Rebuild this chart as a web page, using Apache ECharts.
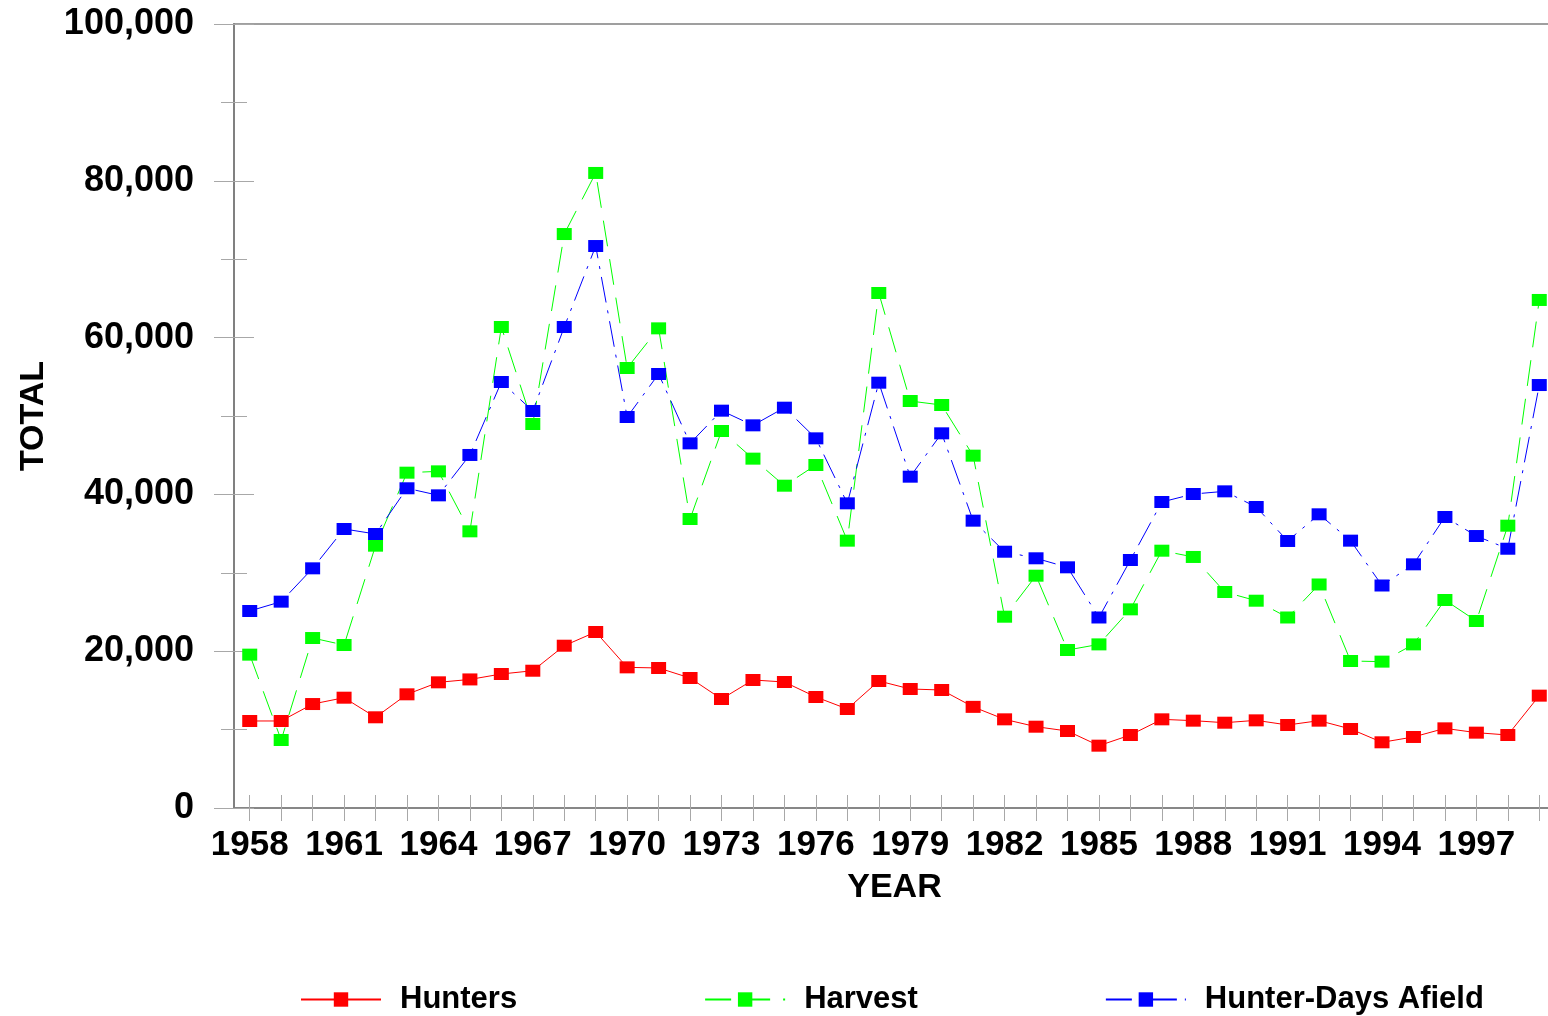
<!DOCTYPE html>
<html>
<head>
    <meta charset="utf-8">
    <title>hunters</title>
    <style>
        html, body { margin: 0; padding: 0; background: #fff; }
    </style>
</head>
<body>
    <div id="main" style="width: 1548px;height:1016px;"></div>

    <script src="https://cdn.jsdelivr.net/npm/echarts@6/dist/echarts.min.js"></script>
    <script type="text/javascript">
        // values
        var years = [];
        for (var y = 1958; y <= 1999; y++) years.push(String(y));

        var hunters = [11100, 11100, 13260, 14070, 11570, 14500, 16030, 16400, 17090, 17510,
                       20700, 22450, 17940, 17860, 16580, 13900, 16330, 16070, 14160, 12630,
                       16200, 15180, 15050, 12900, 11310, 10370, 9820, 7950, 9310, 11310,
                       11140, 10880, 11180, 10590, 11140, 10080, 8380, 9060, 10160, 9610,
                       9310, 14330];
        var harvest = [19560, 8670, 21680, 20790, 33460, 42770, 42940, 35290, 61350, 48980,
                       73210, 81000, 56120, 61180, 36860, 48090, 44560, 41110, 43750, 34100,
                       65690, 51910, 51400, 44940, 24400, 29630, 20150, 20870, 25340, 32820,
                       32020, 27550, 26440, 24300, 28510, 18750, 18670, 20870, 26530, 23850,
                       36010, 64800];
        var hunterDays = [25130, 26320, 30570, 35590, 34950, 40780, 39880, 45030, 54340, 50640,
                          61350, 71680, 49870, 55360, 46510, 50680, 48810, 51060, 47150, 38860,
                          54250, 42260, 47790, 36650, 32690, 31850, 30700, 24300, 31630, 39030,
                          40050, 40390, 38390, 34060, 37460, 34100, 28380, 31080, 37120, 34690,
                          33070, 53950];

        var font = '"Liberation Sans", Arial, Helvetica, sans-serif';
        var axisGray = '#808080';
        var tickGray = '#a8a8a8';

        function mkSeries(name, data, color, dash) {
            return {
                name: name,
                type: 'line',
                data: data,
                symbol: 'rect',
                symbolSize: [15, 12],
                showAllSymbol: true,
                itemStyle: { color: color },
                lineStyle: { color: color, width: 1, type: dash },
                emphasis: { disabled: true }
            };
        }

        var myChart = echarts.init(document.getElementById('main'));
        var option = {
            animation: false,
            backgroundColor: '#fff',
            grid: {
                left: 234,
                top: 24,
                width: 1321,
                bottom: 208,
                outerBoundsMode: 'none',
                containLabel: false,
                show: true,
                borderColor: axisGray,
                borderWidth: 1.5,
                backgroundColor: 'transparent'
            },
            legend: {
                left: 300,
                top: 984,
                padding: 0,
                itemWidth: 80,
                itemHeight: 18,
                itemGap: 187,
                textStyle: {
                    fontFamily: font,
                    fontWeight: 'bold',
                    fontSize: 31,
                    color: '#000',
                    padding: [0, 0, 0, 14]
                },
                data: ['Hunters', 'Harvest', 'Hunter-Days Afield']
            },
            xAxis: [{
                type: 'category',
                data: years,
                position: 'bottom',
                name: 'YEAR',
                nameLocation: 'middle',
                nameGap: 63,
                nameTextStyle: { fontFamily: font, fontWeight: 'bold', fontSize: 34, color: '#000' },
                axisLine: { lineStyle: { color: axisGray, width: 1.5 } },
                axisTick: { show: true, interval: 0, alignWithLabel: true, length: 13,
                            lineStyle: { color: tickGray, width: 1 } },
                axisLabel: { interval: 2, margin: 20, fontFamily: font, fontWeight: 'bold',
                             fontSize: 35, color: '#000' },
                splitLine: { show: false }
            }, {
                type: 'category',
                data: years,
                position: 'bottom',
                axisLine: { show: false },
                axisTick: { show: true, inside: true, interval: 0, alignWithLabel: true, length: 13,
                            lineStyle: { color: tickGray, width: 1 } },
                axisLabel: { show: false },
                splitLine: { show: false }
            }],
            yAxis: [{
                type: 'value',
                min: 0,
                max: 100000,
                interval: 20000,
                position: 'left',
                name: 'TOTAL',
                nameLocation: 'middle',
                nameRotate: 90,
                nameGap: 183,
                nameTextStyle: { fontFamily: font, fontWeight: 'bold', fontSize: 34, color: '#000' },
                axisLine: { show: true, lineStyle: { color: axisGray, width: 2 } },
                axisTick: { show: true, length: 20, lineStyle: { color: tickGray, width: 1 } },
                minorTick: { show: true, splitNumber: 2, length: 13, lineStyle: { color: tickGray, width: 1 } },
                axisLabel: {
                    margin: 40,
                    fontFamily: font, fontWeight: 'bold', fontSize: 36, color: '#000',
                    formatter: function (v) { return v.toLocaleString('en-US'); }
                },
                splitLine: { show: false }
            }, {
                type: 'value',
                min: 0,
                max: 100000,
                interval: 20000,
                position: 'left',
                axisLine: { show: false },
                axisTick: { show: true, inside: true, length: 20, lineStyle: { color: tickGray, width: 1 } },
                minorTick: { show: true, splitNumber: 2, length: 13, lineStyle: { color: tickGray, width: 1 } },
                axisLabel: { show: false },
                splitLine: { show: false }
            }],
            series: [
                mkSeries('Hunters', hunters, '#ff0000', 'solid'),
                mkSeries('Harvest', harvest, '#00ff00', [26, 13]),
                mkSeries('Hunter-Days Afield', hunterDays, '#0000ff', [26, 8, 3, 8])
            ]
        };
        myChart.setOption(option);
    </script>
</body>
</html>
